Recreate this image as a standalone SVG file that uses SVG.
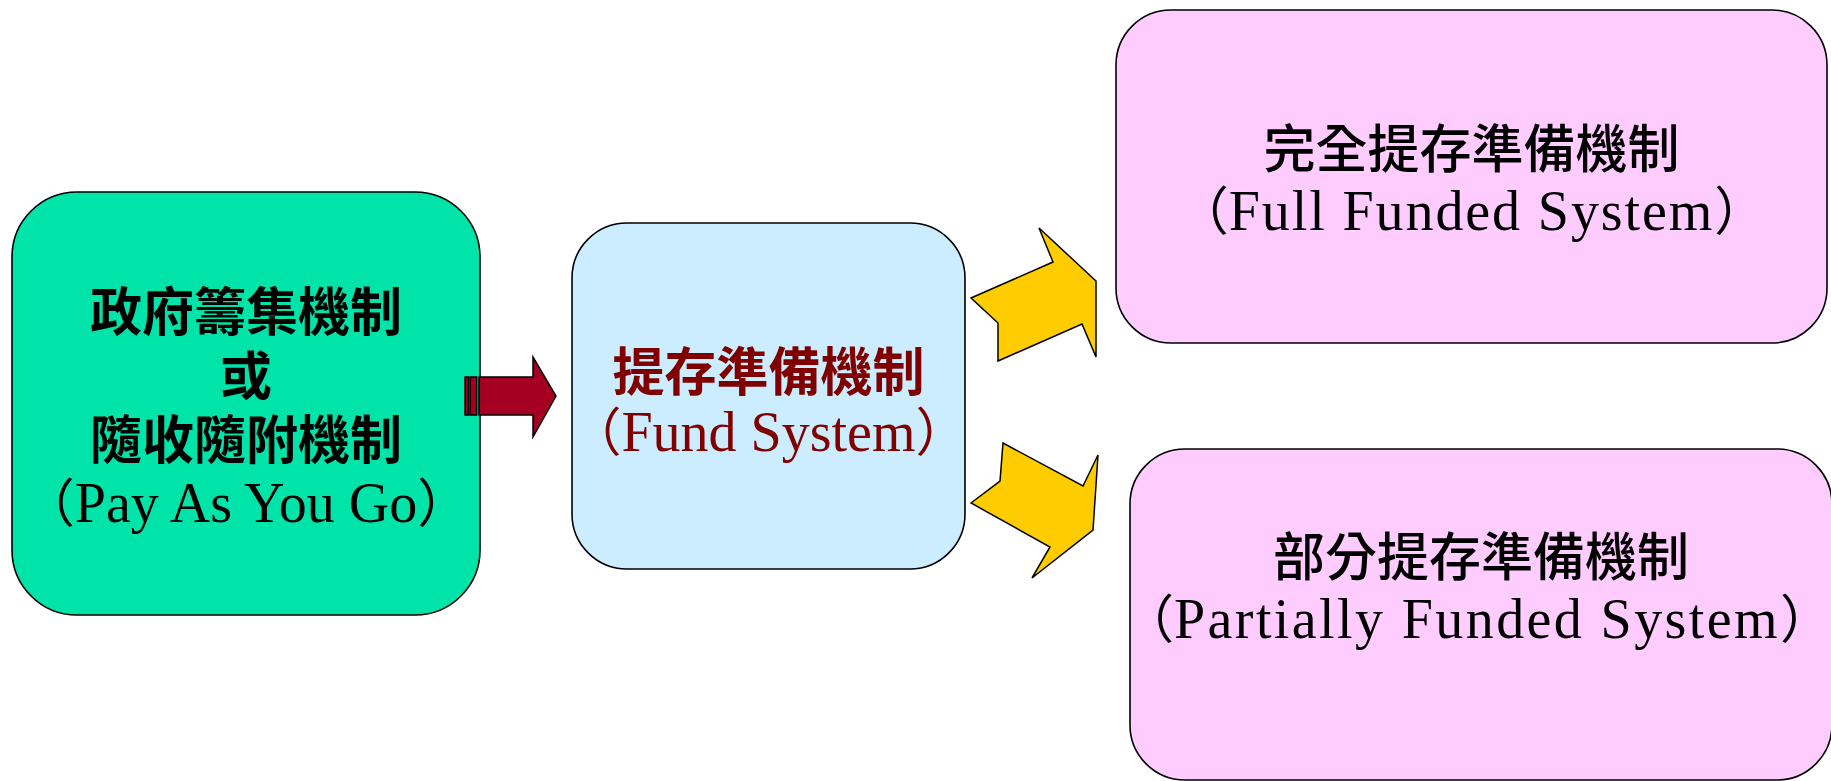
<svg xmlns="http://www.w3.org/2000/svg" width="1831" height="781" viewBox="0 0 1831 781">
<style>
.box{stroke:#000;stroke-width:1.6}
.cjk{font-family:"Noto Sans CJK TC","Noto Sans CJK SC",sans-serif;font-size:52px;text-anchor:middle;fill:#000}
.lat{font-family:"Liberation Serif","Noto Sans CJK TC",serif;font-size:56px;text-anchor:middle;fill:#000}
.par{font-family:"Noto Sans CJK TC","Noto Sans CJK SC",sans-serif;font-size:52px;letter-spacing:0}
.b{font-weight:700}
.m{font-weight:500}
.red{fill:#800000}
.arrow{stroke:#000;stroke-width:1.5;stroke-linejoin:miter}
</style>
<rect width="1831" height="781" fill="#fff"/>
<g id="payg">
<rect class="box" x="12" y="192" width="468" height="423" rx="65" fill="#00E4A9"/>
<text class="cjk b" x="246" y="331">政府籌集機制<tspan x="246" dy="64">或</tspan><tspan x="246" dy="64">隨收隨附機制</tspan></text>
<text class="lat" x="246" y="522" letter-spacing="0"><tspan class="par">（</tspan>Pay As You Go<tspan class="par">）</tspan></text>
</g>
<g id="fund">
<rect class="box" x="572" y="223" width="393" height="346" rx="55" fill="#CCECFF"/>
<text class="cjk b red" x="768.5" y="391">提存準備機制</text>
<text class="lat red" x="768.5" y="451" letter-spacing="0"><tspan class="par">（</tspan>Fund System<tspan class="par">）</tspan></text>
</g>
<g id="full">
<rect class="box" x="1116" y="10" width="711" height="333" rx="55" fill="#FFCCFF"/>
<text class="cjk m" x="1471.5" y="168">完全提存準備機制</text>
<text class="lat" x="1471.5" y="230" letter-spacing="1.9"><tspan class="par">（</tspan>Full Funded System<tspan class="par">）</tspan></text>
</g>
<g id="partial">
<rect class="box" x="1130" y="449" width="702" height="331" rx="55" fill="#FFCCFF"/>
<text class="cjk m" x="1481" y="576">部分提存準備機制</text>
<text class="lat" x="1477" y="638" letter-spacing="2.4"><tspan class="par">（</tspan>Partially Funded System<tspan class="par">）</tspan></text>
</g>
<g id="connectors">
<g id="arrow-payg-fund" fill="#A50021" class="arrow">
<rect x="465" y="377" width="3.3" height="38"/>
<rect x="470" y="377" width="6.7" height="38"/>
<polygon points="479,377 533,377 533,357 556,396 533,437 533,415 479,415"/>
</g>
<polygon id="arrow-fund-full" class="arrow" fill="#FFCC00" points="971,298 1053,262 1039,228 1096,281 1096,357 1082,324 998,361 998,323"/>
<polygon id="arrow-fund-partial" class="arrow" fill="#FFCC00" points="971,503 1000,481 1003,443 1083,486 1098,455 1093,530 1032,578 1050,547"/>
</g>
</svg>
